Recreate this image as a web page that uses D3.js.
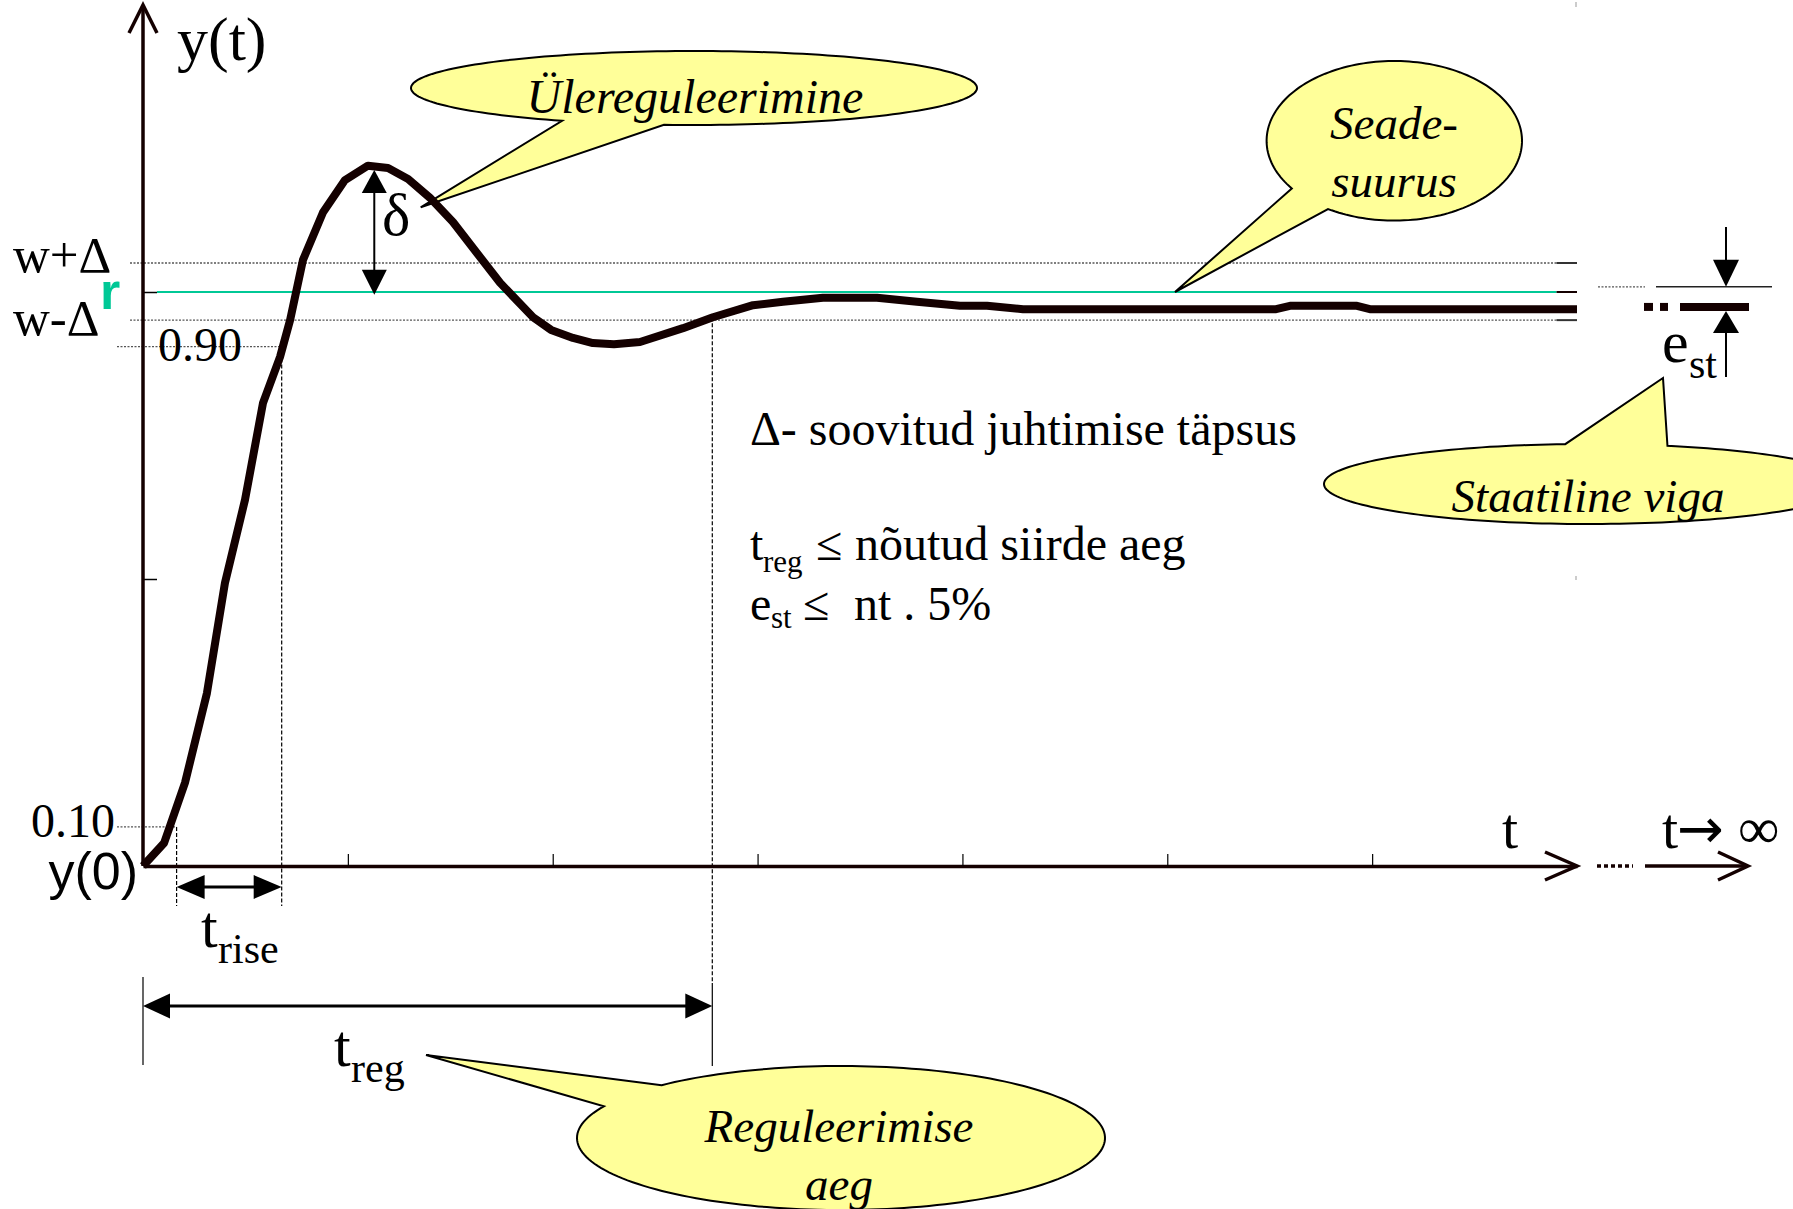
<!DOCTYPE html>
<html>
<head>
<meta charset="utf-8">
<script src="https://cdn.jsdelivr.net/npm/d3@7"></script>
<style>
body { margin: 0; background: #fff; }
svg { display: block; }
text { font-family: "Liberation Serif", "Times New Roman", serif; fill: #000; }
.call { font-style: italic; font-size: 47px; }
</style>
</head>
<body>
<div id="chart"></div>
<script>
// step response (t in tick units, y relative to r = 1)
var respT = [0, 0.103, 0.205, 0.312, 0.400, 0.498, 0.586, 0.669, 0.718, 0.781,
  0.879, 0.986, 1.098, 1.196, 1.294, 1.401, 1.513, 1.630, 1.743, 1.904,
  1.992, 2.099, 2.196, 2.299, 2.426, 2.636, 2.782, 2.978, 3.124, 3.319,
  3.583, 3.778, 3.988, 4.120, 4.296, 5.531, 5.599, 5.926, 5.989, 7.0]
var respY = [0, 0.040, 0.145, 0.301, 0.493, 0.638, 0.807, 0.887, 0.951, 1.056,
  1.139, 1.195, 1.220, 1.216, 1.197, 1.164, 1.122, 1.068, 1.016, 0.956,
  0.934, 0.920, 0.911, 0.909, 0.913, 0.937, 0.956, 0.977, 0.983, 0.990,
  0.990, 0.983, 0.976, 0.976, 0.970, 0.970, 0.976, 0.976, 0.970, 0.970]

var xTicks = [1, 2, 3, 4, 5, 6]
var yTicks = [0.5, 1]

// tolerance band around r
var bandNames = ["w+\u0394", "w-\u0394"]
var bandValues = [1.0505, 0.951]
var rValue = 1

// 10% / 90% levels and the times where the curve crosses them
var riseLabels = ["0.10", "0.90"]
var riseLevels = [0.068, 0.905]
var riseTimes = [0.164, 0.677]
var tReg = 2.779

// overshoot arrow
var deltaT = 1.129
var deltaTop = 1.2125
var deltaBottom = 0.995

// the "t -> infinity" part
var infR = 1.009
var infSteady = 0.974

var W = 1793, H = 1209
var ink = "#140000"
var green = "#00c896"

var svg = d3.select("#chart").append("svg")
  .attr("width", W)
  .attr("height", H)

var x = d3.scaleLinear().domain([0, 7]).range([143, 1577])
var y = d3.scaleLinear().domain([0, 1]).range([866, 292])

function seg(x1, y1, x2, y2, stroke, w, dash) {
  var l = svg.append("line")
    .attr("x1", x1).attr("y1", y1).attr("x2", x2).attr("y2", y2)
    .attr("stroke", stroke).attr("stroke-width", w)
  if (dash) l.attr("stroke-dasharray", dash)
  return l
}

function head(tx, ty, dx, dy, len, half) {
  var bx = tx - dx * len, by = ty - dy * len
  var px = -dy, py = dx
  svg.append("path")
    .attr("d", "M" + tx + "," + ty + "L" + (bx + px * half) + "," + (by + py * half) +
      "L" + (bx - px * half) + "," + (by - py * half) + "Z")
    .attr("fill", "#000")
}

function chevron(tx, ty, dx, dy, len, half) {
  var bx = tx - dx * len, by = ty - dy * len
  var px = -dy, py = dx
  svg.append("path")
    .attr("d", "M" + (bx + px * half) + "," + (by + py * half) + "L" + tx + "," + ty +
      "L" + (bx - px * half) + "," + (by - py * half))
    .attr("fill", "none").attr("stroke", ink).attr("stroke-width", 3.5)
    .attr("stroke-linejoin", "miter")
}

function label(txt, px, py, size, opts) {
  var t = svg.append("text").attr("x", px).attr("y", py)
    .style("font-size", size + "px").text(txt)
  if (opts) Object.keys(opts).forEach(function (k) { t.style(k, opts[k]) })
  return t
}

function callout(cx, cy, rx, ry, a, b, tip) {
  var ang = function (p) { return Math.atan2((p[1] - cy) / ry, (p[0] - cx) / rx) }
  var t0 = ang(a), t1 = ang(b)
  var d = t1 - t0
  while (d <= -Math.PI) d += 2 * Math.PI
  while (d > Math.PI) d -= 2 * Math.PI
  d = d > 0 ? d - 2 * Math.PI : d + 2 * Math.PI
  var pts = []
  for (var i = 0; i <= 180; i++) {
    var t = t0 + d * i / 180
    pts.push([cx + rx * Math.cos(t), cy + ry * Math.sin(t)])
  }
  pts.push(tip)
  svg.append("path")
    .attr("d", d3.line()(pts) + "Z")
    .attr("fill", "#ffff99")
    .attr("stroke", "#000")
    .attr("stroke-width", 2)
    .attr("stroke-linejoin", "miter")
}

///////////////////////////// level lines /////////////////////////////

bandValues.forEach(function (v) {
  seg(130, y(v), x(6.9), y(v), "#555", 1.3, "2,1.5")
  seg(x(6.9), y(v), x(7), y(v), "#333", 2)
})
seg(157, y(rValue), x(6.9), y(rValue), green, 2)
seg(x(6.9), y(rValue), x(7), y(rValue), ink, 2)

// 0.10 and 0.90 with dashed drops to the t axis
riseLevels.forEach(function (v, i) {
  seg(117, y(v), x(riseTimes[i]), y(v), "#555", 1.3, "2,1.5")
  seg(x(riseTimes[i]), y(v), x(riseTimes[i]), 906, "#000", 1.2, "4,2")
})

// t_reg drop line
var regHit = y(0.956)
seg(x(tReg), regHit, x(tReg), 983, "#000", 1.2, "4,2")
seg(x(tReg), 983, x(tReg), 1066, "#000", 1.2)
seg(x(0), 977, x(0), 1065, "#000", 1.2)

// small marks at the right edge of the original frame
seg(1576, 2, 1576, 7, "#999", 1)
seg(1576, 576, 1576, 580, "#999", 1)

///////////////////////////// callouts /////////////////////////////

callout(694, 88, 283, 37, [561, 121], [663, 126], [420.7, 207.3])
callout(1394.3, 140.8, 127.7, 79.8, [1292.7, 188], [1328, 209], [1175, 292])
callout(1588, 484, 264, 40, [1565.7, 445], [1665.7, 446.7], [1663, 378])
callout(841, 1138, 264, 72, [661, 1085], [601.7, 1106], [426, 1055])

label("\u00dclereguleerimine", 695, 113, 48).attr("class", "call").attr("text-anchor", "middle")
label("Seade-", 1394, 139, 47).attr("class", "call").attr("text-anchor", "middle")
label("suurus", 1394, 197, 47).attr("class", "call").attr("text-anchor", "middle")
label("Staatiline viga", 1588, 512, 47).attr("class", "call").attr("text-anchor", "middle")
label("Reguleerimise", 839, 1142, 47).attr("class", "call").attr("text-anchor", "middle")
label("aeg", 839, 1200, 47).attr("class", "call").attr("text-anchor", "middle")

///////////////////////////// axes /////////////////////////////

var xAxis = svg.append("g")
  .attr("transform", "translate(0," + y(0) + ")")
  .call(d3.axisBottom(x).tickValues(xTicks).tickSize(-12).tickSizeOuter(0).tickFormat(""))
xAxis.select(".domain").attr("stroke", ink).attr("stroke-width", 3.5)
xAxis.selectAll(".tick line").attr("stroke", "#000").attr("stroke-width", 1.2)
chevron(x(7), y(0), 1, 0, 32, 14)

var yAxis = svg.append("g")
  .attr("transform", "translate(" + x(0) + ",0)")
  .call(d3.axisLeft(y).tickValues(yTicks).tickSize(-14).tickSizeOuter(0).tickFormat(""))
yAxis.select(".domain").remove()
yAxis.selectAll(".tick line").attr("stroke", "#000").attr("stroke-width", 1.5)
seg(x(0), 5, x(0), y(0), ink, 3.5)
chevron(x(0), 5, 0, -1, 28, 14)

// continuation towards infinity
seg(1597, y(0), 1633, y(0), ink, 3.5, "4,3")
seg(1645, y(0), 1748, y(0), ink, 3.5)
chevron(1748, y(0), 1, 0, 30, 14)

///////////////////////////// response curve /////////////////////////////

var resp = respT.map(function (t, i) { return [t, respY[i]] })
svg.append("path")
  .datum(resp)
  .attr("d", d3.line()
    .x(function (d) { return x(d[0]) })
    .y(function (d) { return y(d[1]) }))
  .attr("fill", "none")
  .attr("stroke", ink)
  .attr("stroke-width", 8)
  .attr("stroke-linejoin", "round")

///////////////////////////// arrows /////////////////////////////

// overshoot
seg(x(deltaT), y(deltaTop) + 20, x(deltaT), y(deltaBottom) - 20, "#000", 2)
head(x(deltaT), y(deltaTop), 0, -1, 23, 12.5)
head(x(deltaT), y(deltaBottom), 0, 1, 25, 12.5)

// rise time
var rY = 887
seg(x(riseTimes[0]) + 20, rY, x(riseTimes[1]) - 20, rY, "#000", 3)
head(x(riseTimes[0]), rY, -1, 0, 28, 12)
head(x(riseTimes[1]), rY, 1, 0, 28, 12)

// settling time
var gY = 1006
seg(x(0) + 20, gY, x(tReg) - 20, gY, "#000", 3)
head(x(0), gY, -1, 0, 27, 12.5)
head(x(tReg), gY, 1, 0, 27, 12.5)

// static error on the right
seg(1598, y(infR), 1645, y(infR), "#555", 1.3, "2,1.5")
seg(1656, y(infR), 1772, y(infR), "#222", 1.5)
seg(1644, y(infSteady), 1653, y(infSteady), ink, 8)
seg(1660, y(infSteady), 1668, y(infSteady), ink, 8)
seg(1680, y(infSteady), 1749, y(infSteady), ink, 8)
seg(1726, 227, 1726, y(infR) - 20, "#000", 2)
head(1726, y(infR), 0, 1, 27, 13)
seg(1726, y(infSteady) + 18, 1726, 377, "#000", 2)
head(1726, y(infSteady) + 4, 0, -1, 22, 13)

///////////////////////////// labels /////////////////////////////

label("y(t)", 177, 60, 62)
label(bandNames[0], 13, 272, 51)
label(bandNames[1], 13, 335, 51)
label("r", 100, 309, 52, { "font-family": "Liberation Sans, Arial, sans-serif", "font-weight": "bold", "fill": green })
label(riseLabels[1], 158, 361, 48)
label(riseLabels[0], 31, 837, 48)
label("y(0)", 138, 889, 52, { "font-family": "Liberation Sans, Arial, sans-serif" }).attr("text-anchor", "end")
label("\u03b4", 382, 235, 60)

label("t", 1502, 848, 58)
var inf = svg.append("text").attr("y", 848).style("font-size", "58px")
inf.append("tspan").attr("x", 1662).text("t")
inf.append("tspan").attr("x", 1677).style("font-family", "DejaVu Sans, sans-serif").style("font-size", "56px").text("\u2192")
inf.append("tspan").attr("x", 1738).text("\u221e")

label("t", 201, 947, 60)
label("rise", 218, 963, 42)
label("t", 334, 1066, 60)
label("reg", 351, 1082, 42)

label("e", 1662, 362, 60)
label("st", 1689, 378, 42)

label("\u0394- soovitud juhtimise t\u00e4psus", 750, 445, 48)
label("t", 750, 560, 48)
label("reg", 763, 572, 31)
label("\u2264", 816, 560, 48)
label("n\u00f5utud siirde aeg", 855, 560, 48)
label("e", 750, 620, 48)
label("st", 771, 628, 31)
label("\u2264", 803, 620, 48)
label("nt . 5%", 854, 620, 48)
</script>
</body>
</html>
